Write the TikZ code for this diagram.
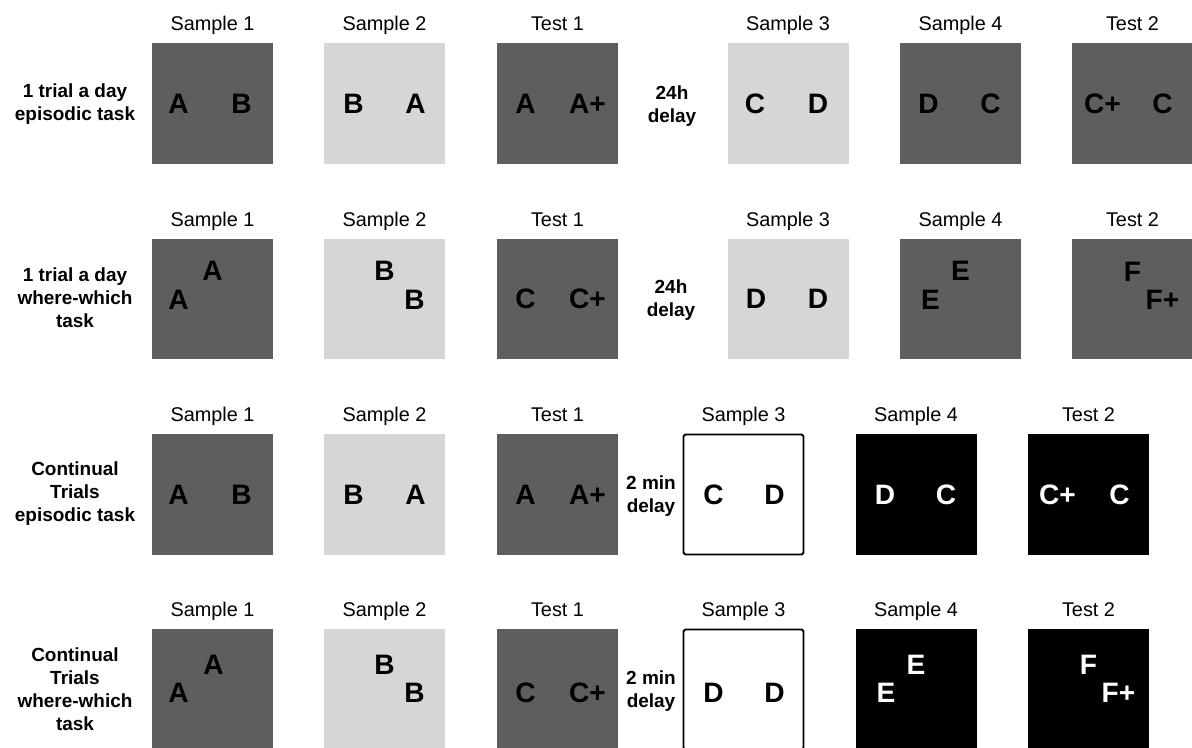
\documentclass[tikz,border=0pt]{standalone}
\usepackage{fontspec}
\setmainfont{Liberation Sans}
\usetikzlibrary{calc}

\definecolor{paneldark}{RGB}{94,94,94}
\definecolor{panellight}{RGB}{214,214,214}

\begin{document}
\begin{tikzpicture}[
		x=0.02cm, y=-0.02cm,
		panel/.style={rectangle, inner sep=0pt, minimum size=2.42cm},
		dark/.style={panel, fill=paneldark},
		light/.style={panel, fill=panellight},
		blank/.style={panel, fill=white, draw=black, line width=1.1pt, rounded corners=1pt, minimum size=2.4cm},
		night/.style={panel, fill=black},
		title/.style={anchor=south, inner sep=0pt, text depth=0pt,
			font=\fontsize{11.3}{13}\selectfont},
		glyph/.style={inner sep=0pt, font=\fontsize{16}{19}\selectfont\bfseries},
		glyphw/.style={glyph, text=white},
		rowlab/.style={align=center, inner sep=0pt,
			font=\fontsize{10.8}{13.1}\selectfont\bfseries},
		delay/.style={rowlab}
	]
		\useasboundingbox (0,0) rectangle (1192,747);
		% rótulos das linhas
		\node[rowlab] (lab1) at (75,104) {1 trial a day\\episodic task};
		\node[rowlab] (lab2) at (75,298) {1 trial a day\\where-which\\task};
		\node[rowlab] (lab3) at (75,494) {Continual\\Trials\\episodic task};
		\node[rowlab] (lab4) at (75,689) {Continual\\Trials\\where-which\\task};
		% linha 1
		\node[dark] (r1s1) at (212.5,103.5) {};
		\node[light] (r1s2) at (384.5,103.5) {};
		\node[dark] (r1t1) at (557.5,103.5) {};
		\node[delay] (d1) at (672,106) {24h\\delay};
		\node[light] (r1s3) at (788,103.5) {};
		\node[dark] (r1s4) at (960.5,103.5) {};
		\node[dark] (r1t2) at (1132.5,103.5) {};
		\node[title] (r1s1t) at ([yshift=6.5pt]r1s1.north) {Sample 1};
		\node[title] (r1s2t) at ([yshift=6.5pt]r1s2.north) {Sample 2};
		\node[title] (r1t1t) at ([yshift=6.5pt]r1t1.north) {Test 1};
		\node[title] (r1s3t) at ([yshift=6.5pt]r1s3.north) {Sample 3};
		\node[title] (r1s4t) at ([yshift=6.5pt]r1s4.north) {Sample 4};
		\node[title] (r1t2t) at ([yshift=6.5pt]r1t2.north) {Test 2};
		\node[glyph] (r1s1a) at ($(r1s1)+(-34,0)$) {A};
		\node[glyph] (r1s1b) at ($(r1s1)+(29,0)$) {B};
		\node[glyph] (r1s2a) at ($(r1s2)+(-31,0)$) {B};
		\node[glyph] (r1s2b) at ($(r1s2)+(31,0)$) {A};
		\node[glyph] (r1t1a) at ($(r1t1)+(-32,0)$) {A};
		\node[glyph] (r1t1b) at ($(r1t1)+(30,0)$) {A+};
		\node[glyph] (r1s3a) at ($(r1s3)+(-33,0)$) {C};
		\node[glyph] (r1s3b) at ($(r1s3)+(30,0)$) {D};
		\node[glyph] (r1s4a) at ($(r1s4)+(-32,0)$) {D};
		\node[glyph] (r1s4b) at ($(r1s4)+(30,0)$) {C};
		\node[glyph] (r1t2a) at ($(r1t2)+(-30,0)$) {C+};
		\node[glyph] (r1t2b) at ($(r1t2)+(30,0)$) {C};
		% linha 2
		\node[dark] (r2s1) at (212.5,299) {};
		\node[light] (r2s2) at (384.5,299) {};
		\node[dark] (r2t1) at (557.5,299) {};
		\node[delay] (d2) at (671,300) {24h\\delay};
		\node[light] (r2s3) at (788,299) {};
		\node[dark] (r2s4) at (960.5,299) {};
		\node[dark] (r2t2) at (1132.5,299) {};
		\node[title] (r2s1t) at ([yshift=6.5pt]r2s1.north) {Sample 1};
		\node[title] (r2s2t) at ([yshift=6.5pt]r2s2.north) {Sample 2};
		\node[title] (r2t1t) at ([yshift=6.5pt]r2t1.north) {Test 1};
		\node[title] (r2s3t) at ([yshift=6.5pt]r2s3.north) {Sample 3};
		\node[title] (r2s4t) at ([yshift=6.5pt]r2s4.north) {Sample 4};
		\node[title] (r2t2t) at ([yshift=6.5pt]r2t2.north) {Test 2};
		\node[glyph] (r2s1a) at ($(r2s1)+(-34,1)$) {A};
		\node[glyph] (r2s1b) at ($(r2s1)+(0,-28)$) {A};
		\node[glyph] (r2s2a) at ($(r2s2)+(0,-28)$) {B};
		\node[glyph] (r2s2b) at ($(r2s2)+(30,1)$) {B};
		\node[glyph] (r2t1a) at ($(r2t1)+(-32,0)$) {C};
		\node[glyph] (r2t1b) at ($(r2t1)+(30,0)$) {C+};
		\node[glyph] (r2s3a) at ($(r2s3)+(-32,0)$) {D};
		\node[glyph] (r2s3b) at ($(r2s3)+(30,0)$) {D};
		\node[glyph] (r2s4a) at ($(r2s4)+(0,-28)$) {E};
		\node[glyph] (r2s4b) at ($(r2s4)+(-30,1)$) {E};
		\node[glyph] (r2t2a) at ($(r2t2)+(0,-27)$) {F};
		\node[glyph] (r2t2b) at ($(r2t2)+(30,1)$) {F+};
		% linha 3
		\node[dark] (r3s1) at (212.5,494.5) {};
		\node[light] (r3s2) at (384.5,494.5) {};
		\node[dark] (r3t1) at (557.5,494.5) {};
		\node[delay] (d3) at (651,496) {2 min\\delay};
		\node[blank] (r3s3) at (743.5,494.5) {};
		\node[night] (r3s4) at (916,494.5) {};
		\node[night] (r3t2) at (1088.5,494.5) {};
		\node[title] (r3s1t) at ([yshift=6.5pt]r3s1.north) {Sample 1};
		\node[title] (r3s2t) at ([yshift=6.5pt]r3s2.north) {Sample 2};
		\node[title] (r3t1t) at ([yshift=6.5pt]r3t1.north) {Test 1};
		\node[title] (r3s3t) at ([yshift=6.5pt]r3s3.north) {Sample 3};
		\node[title] (r3s4t) at ([yshift=6.5pt]r3s4.north) {Sample 4};
		\node[title] (r3t2t) at ([yshift=6.5pt]r3t2.north) {Test 2};
		\node[glyph] (r3s1a) at ($(r3s1)+(-34,0)$) {A};
		\node[glyph] (r3s1b) at ($(r3s1)+(29,0)$) {B};
		\node[glyph] (r3s2a) at ($(r3s2)+(-31,0)$) {B};
		\node[glyph] (r3s2b) at ($(r3s2)+(31,0)$) {A};
		\node[glyph] (r3t1a) at ($(r3t1)+(-32,0)$) {A};
		\node[glyph] (r3t1b) at ($(r3t1)+(30,0)$) {A+};
		\node[glyph] (r3s3a) at ($(r3s3)+(-30,0)$) {C};
		\node[glyph] (r3s3b) at ($(r3s3)+(31,0)$) {D};
		\node[glyphw] (r3s4a) at ($(r3s4)+(-31,0)$) {D};
		\node[glyphw] (r3s4b) at ($(r3s4)+(30,0)$) {C};
		\node[glyphw] (r3t2a) at ($(r3t2)+(-31,0)$) {C+};
		\node[glyphw] (r3t2b) at ($(r3t2)+(31,0)$) {C};
		% linha 4
		\node[dark] (r4s1) at (212.5,689.5) {};
		\node[light] (r4s2) at (384.5,689.5) {};
		\node[dark] (r4t1) at (557.5,689.5) {};
		\node[delay] (d4) at (651,691) {2 min\\delay};
		\node[blank] (r4s3) at (743.5,689.5) {};
		\node[night] (r4s4) at (916,689.5) {};
		\node[night] (r4t2) at (1088.5,689.5) {};
		\node[title] (r4s1t) at ([yshift=6.5pt]r4s1.north) {Sample 1};
		\node[title] (r4s2t) at ([yshift=6.5pt]r4s2.north) {Sample 2};
		\node[title] (r4t1t) at ([yshift=6.5pt]r4t1.north) {Test 1};
		\node[title] (r4s3t) at ([yshift=6.5pt]r4s3.north) {Sample 3};
		\node[title] (r4s4t) at ([yshift=6.5pt]r4s4.north) {Sample 4};
		\node[title] (r4t2t) at ([yshift=6.5pt]r4t2.north) {Test 2};
		\node[glyph] (r4s1a) at ($(r4s1)+(-34,3)$) {A};
		\node[glyph] (r4s1b) at ($(r4s1)+(1,-25)$) {A};
		\node[glyph] (r4s2a) at ($(r4s2)+(0,-25)$) {B};
		\node[glyph] (r4s2b) at ($(r4s2)+(30,3)$) {B};
		\node[glyph] (r4t1a) at ($(r4t1)+(-32,3)$) {C};
		\node[glyph] (r4t1b) at ($(r4t1)+(30,3)$) {C+};
		\node[glyph] (r4s3a) at ($(r4s3)+(-30,3)$) {D};
		\node[glyph] (r4s3b) at ($(r4s3)+(31,3)$) {D};
		\node[glyphw] (r4s4a) at ($(r4s4)+(0,-25)$) {E};
		\node[glyphw] (r4s4b) at ($(r4s4)+(-30,3)$) {E};
		\node[glyphw] (r4t2a) at ($(r4t2)+(0,-25)$) {F};
		\node[glyphw] (r4t2b) at ($(r4t2)+(30,3)$) {F+};
	\end{tikzpicture}
\end{document}
